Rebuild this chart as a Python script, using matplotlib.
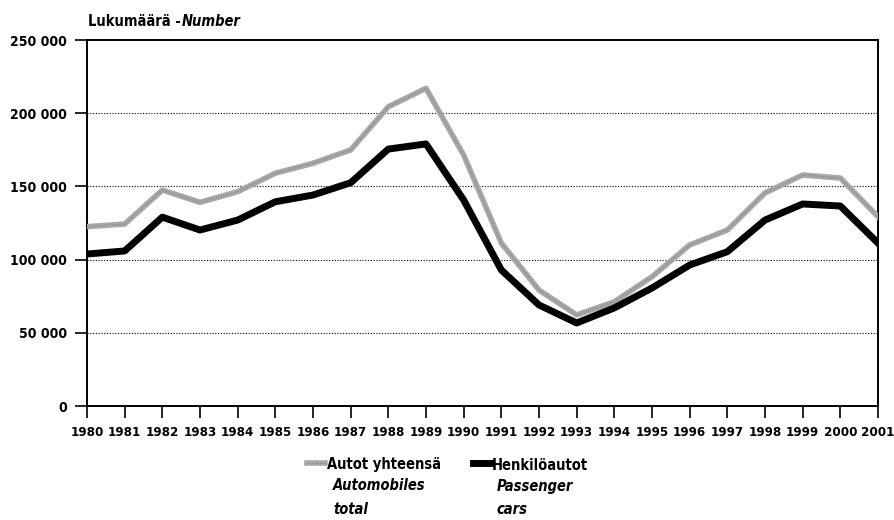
import matplotlib
matplotlib.use("Agg")
import matplotlib.pyplot as plt
from matplotlib.lines import Line2D
from matplotlib.ticker import FuncFormatter
from matplotlib import font_manager as fm

years = list(range(1980, 2002))
total = [122500, 124300, 147500, 139100, 146400, 159000, 165800, 174900, 204400, 217000,
         171400, 111300, 79200, 62200, 71200, 88300, 110000, 120200, 145500, 157800,
         155700, 129300]
passenger = [103800, 105900, 129000, 120200, 127000, 139500, 144100, 152500, 175500, 179000,
             140700, 92900, 69000, 56700, 67000, 80600, 96300, 105400, 127000, 138000,
             136600, 111300]
yticks = [0, 50000, 100000, 150000, 200000, 250000]

plt.rcParams['font.family'] = ['DejaVu Sans']
plt.rcParams['font.stretch'] = 'condensed'
fs = 10
FW = 'bold'

def fp(size=fs, italic=False):
    return fm.FontProperties(family='DejaVu Sans', stretch='condensed', weight=FW,
                             style='italic' if italic else 'normal', size=size)

fig = plt.figure(figsize=(8.94, 5.2), dpi=100)
ax = fig.add_axes([87/894, 1-406/520, (878-87)/894, (406-40)/520])

for y in yticks[1:-1]:
    ax.axhline(y, color='black', lw=0.8, ls=(0, (1, 1.5)), zorder=1)

ax.plot(years, total, color='#a8a8a8', lw=4, zorder=3)
ax.plot(years, total, color='#606060', lw=1.0, ls=(0, (0.6, 1.2)), zorder=3.5, alpha=0.6)
ax.plot(years, passenger, color='black', lw=5, zorder=4)

ax.set_xlim(1980, 2001)
ax.set_ylim(0, 250000)
ax.set_xticks(years)
ax.set_xticklabels([str(y) for y in years])
ax.set_yticks(yticks)
ax.yaxis.set_major_formatter(FuncFormatter(lambda v, p: f"{int(v):,}".replace(",", " ")))
for lbl in ax.get_xticklabels():
    lbl.set_fontproperties(fp(9.5))
for lbl in ax.get_yticklabels():
    lbl.set_fontproperties(fp(10))
ax.tick_params(axis='both', direction='out', length=8.5, width=1.2, color='black')
ax.tick_params(axis='x', pad=6)
ax.tick_params(axis='y', pad=6)
for s in ax.spines.values():
    s.set_color('black')
    s.set_linewidth(1.4)

fig.canvas.draw()
renderer = fig.canvas.get_renderer()

def text_pair(x, y, t1, t2, size):
    a = fig.text(x/894, 1-y/520, t1, fontproperties=fp(size), va='center', ha='left')
    if t2:
        bb = a.get_window_extent(renderer)
        fig.text(bb.x1/894 + 1/894, 1-y/520, t2, fontproperties=fp(size, True), va='center', ha='left')

text_pair(88, 22, 'Lukumäärä -', 'Number', 10.5)

# legend
fig.add_artist(Line2D([307/894, 325/894], [1-463/520, 1-463/520], color='#a8a8a8', lw=4))
fig.add_artist(Line2D([307/894, 325/894], [1-463/520, 1-463/520], color='#606060', lw=1.0, ls=(0, (0.6, 1.2)), alpha=0.6))
lf = 10.5
fig.text(327/894, 1-465/520, 'Autot yhteensä', fontproperties=fp(lf), va='center', ha='left')
fig.text(333/894, 1-486/520, 'Automobiles', fontproperties=fp(lf, True), va='center', ha='left')
fig.text(333/894, 1-509/520, 'total', fontproperties=fp(lf, True), va='center', ha='left')

fig.add_artist(Line2D([473/894, 490/894], [1-463/520, 1-463/520], color='black', lw=5))
fig.text(492/894, 1-465/520, 'Henkilöautot', fontproperties=fp(lf), va='center', ha='left')
fig.text(497/894, 1-486/520, 'Passenger', fontproperties=fp(lf, True), va='center', ha='left')
fig.text(497/894, 1-509/520, 'cars', fontproperties=fp(lf, True), va='center', ha='left')

fig.savefig('out.png', dpi=100)
